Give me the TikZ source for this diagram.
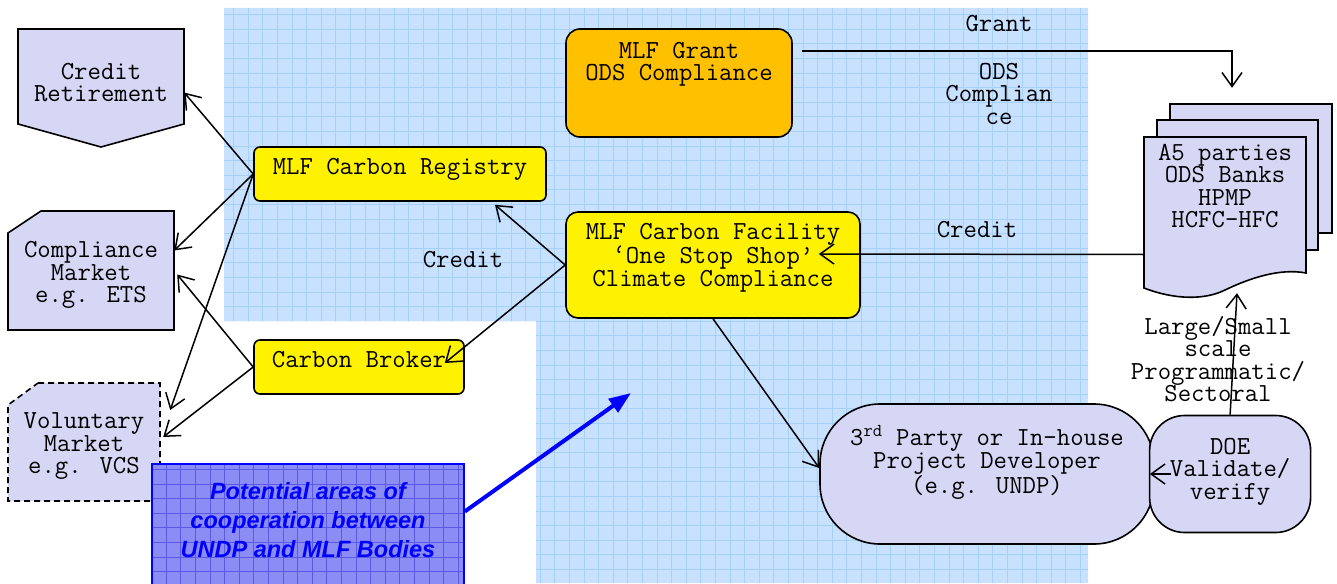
\documentclass[tikz,border=0pt]{standalone}
\usepackage{fontspec}
\newfontfamily\arialfont{Liberation Sans}
\usepackage{tikz}
\usetikzlibrary{positioning}
\usetikzlibrary{arrows.meta}
\definecolor{skyblue}{RGB}{200,225,255}
\definecolor{skyline}{RGB}{165,208,250}
\definecolor{lavender}{RGB}{214,214,245}
\definecolor{amber}{RGB}{255,192,0}
\definecolor{coopfill}{RGB}{140,140,245}
\definecolor{coopline}{RGB}{90,90,230}
\newcommand{\topgap}[1]{\rule{0pt}{#1}}

\begin{document}
\begin{tikzpicture}[x=1pt,y=-1pt,
    every node/.style={font=\ttfamily\fontsize{26}{22.5}\selectfont, inner sep=0pt, align=center},
    box/.style={draw, line width=1.6pt, rounded corners=#1},
    box/.default=6pt,
    page/.style={draw, fill=lavender, line width=1.6pt},
    lift/.style={execute at end node={\rule[-#1]{0pt}{0pt}}},
    link/.style={line width=1.5pt, -{Straight Barb[length=14pt,width=20pt]}},
    coop/.style={draw=blue, line width=1.6pt, fill=coopfill, text=blue,
      font=\arialfont\bfseries\itshape\fontsize{23.5}{29}\selectfont,
      path picture={\draw[coopline, line width=0.8pt, step=14.6pt]
        (path picture bounding box.south west) grid (path picture bounding box.north east);}},
    bluearrow/.style={draw=blue, line width=4pt, -{Triangle[length=22pt,width=16pt]}}]
  \useasboundingbox (0,0) rectangle (1337,583);
  % grid paper behind the MLF part
  \fill[skyblue] (224,8) -- (1088,8) -- (1088,583) -- (536,583) -- (536,321) -- (224,321) -- cycle;
  \begin{scope}
    \clip (224,8) -- (1088,8) -- (1088,583) -- (536,583) -- (536,321) -- (224,321) -- cycle;
    \draw[skyline, line width=0.7pt, step=14.6pt] (224,583) grid (1088,8);
  \end{scope}
  % markets
  \filldraw[page] (18,29) -- (184,29) -- (184,124) -- (101,147) -- (18,124) -- cycle;
  \node (retire) at (101,76.5) [minimum width=166pt, minimum height=95pt] {\topgap{28pt}Credit\\Retirement};
  \filldraw[page] (41,211) -- (174,211) -- (174,330) -- (8,330) -- (8,233) -- cycle;
  \node (comply) at (91,270.5) [minimum width=166pt, minimum height=119pt] {\topgap{25pt}Compliance\\Market\\e.g. ETS};
  \filldraw[page, dash pattern=on 6pt off 4pt] (38,383) -- (160,383) -- (160,501) -- (8,501) -- (8,405) -- cycle;
  \node (volunt) at (84,442) [minimum width=152pt, minimum height=118pt] {\topgap{24pt}Voluntary\\Market\\e.g. VCS};
  % A5 stack
  \filldraw[page] (1170,104) rectangle (1332,233);
  \filldraw[page] (1157,120) rectangle (1318,250);
  \filldraw[page] (1144,137) -- (1306,137) -- (1306,273) .. controls (1280,268) and (1250,278) .. (1225,290)
    .. controls (1205,300) and (1175,300) .. (1144,288) -- cycle;
  \node (a5) at (1225,212.5) [minimum width=162pt, minimum height=151pt, lift=53pt] {A5 parties\\ODS Banks\\HPMP\\HCFC-HFC};
  % MLF boxes
  \node[box=14pt, fill=amber, minimum width=226pt, minimum height=108pt, lift=43pt] (grant) at (679,83) {MLF Grant\\ODS Compliance};
  \node[box, fill=yellow, minimum width=292pt, minimum height=54pt, lift=16pt] (registry) at (400,174) {MLF Carbon Registry};
  \node[box=12pt, fill=yellow, minimum width=294pt, minimum height=106pt, lift=21pt] (facility) at (713,265) {MLF Carbon Facility\\‘One Stop Shop’\\Climate Compliance};
  \node[box, fill=yellow, minimum width=210pt, minimum height=54pt, lift=16pt] (broker) at (359,367) {Carbon Broker};
  \node[box=60pt, fill=lavender, minimum width=334pt, minimum height=140pt, lift=29pt] (dev) at (987,474) {3\textsuperscript{rd} Party or In-house\\Project Developer\\(e.g. UNDP)};
  \node[box=35pt, fill=lavender, minimum width=161pt, minimum height=117pt, lift=11pt, right=-6pt of dev] (doe) {DOE\\Validate/\\verify};
  \node[coop, minimum width=312pt, minimum height=121pt, lift=10pt] (coop) at (308,524.5) {Potential areas of\\cooperation between\\UNDP and MLF Bodies};
  % labels
  \node (grantlbl) at (999,24) {Grant};
  \node (odslbl) at (999,93.5) {ODS\\Complian\\ce};
  \node (creditr) at (977,230) {Credit};
  \node (creditl) at (463,260) {Credit};
  \node (scalelbl) at (1218,359) {Large/Small\\scale\\Programmatic/\\Sectoral};
  % connectors
  \draw[link] (registry.west) -- ([yshift=-16pt]retire.east);
  \draw[link] (registry.west) -- ([yshift=20pt]comply.east);
  \draw[link] (registry.west) -- ([xshift=10pt,yshift=32pt]volunt.east);
  \draw[link] (broker.west) -- ([xshift=3pt,yshift=-4pt]comply.east);
  \draw[link] (broker.west) -- ([xshift=3pt,yshift=5pt]volunt.east);
  \draw[link] (facility.west) -- ([xshift=95pt,yshift=-3pt]registry.south);
  \draw[link] (facility.west) -- ([xshift=-20pt,yshift=4pt]broker.east);
  \draw[link] ([xshift=9pt,yshift=32pt]grant.east) -| ([xshift=7pt,yshift=49pt]a5.north);
  \draw[link] ([yshift=-42pt]a5.west) -- ([xshift=-42pt,yshift=11pt]facility.east);
  \draw[link] (facility.south) -- ([yshift=6pt]dev.west);
  \draw[link] ([xshift=22pt]doe.west) -- ([xshift=-5pt]dev.east);
  \draw[link] (doe.north) -- ([xshift=12pt,yshift=-5pt]a5.south);
  \coordinate (aim) at (631,393);
  \draw[bluearrow] ([yshift=13pt]coop.east) -- (aim);
\end{tikzpicture}
\end{document}
